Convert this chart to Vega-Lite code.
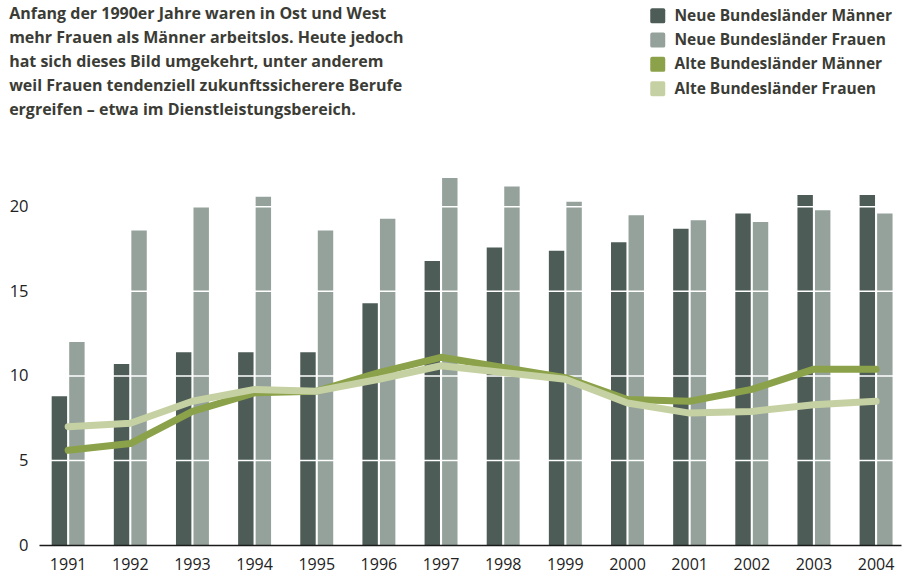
{
  "$schema": "https://vega.github.io/schema/vega-lite/v6.json",
  "width": 862,
  "height": 372,
  "padding": {"left": 9, "top": 6, "right": 0, "bottom": 0},
  "background": "white",
  "config": {"view": {"stroke": null}, "font": "Open Sans"},
  "title": {
    "text": [
      "Anfang der 1990er Jahre waren in Ost und West",
      "mehr Frauen als Männer arbeitslos. Heute jedoch",
      "hat sich dieses Bild umgekehrt, unter anderem",
      "weil Frauen tendenziell zukunftssicherere Berufe",
      "ergreifen – etwa im Dienstleistungsbereich."
    ],
    "anchor": "start",
    "frame": "bounds",
    "font": "Open Sans",
    "fontSize": 16,
    "fontWeight": "bold",
    "lineHeight": 24,
    "color": "#3b3c35",
    "offset": -110
  },
  "datasets": {
    "bars": [
      {"year": "1991", "series": "Neue Bundesländer Männer", "value": 8.8},
      {"year": "1991", "series": "Neue Bundesländer Frauen", "value": 12.0},
      {"year": "1992", "series": "Neue Bundesländer Männer", "value": 10.7},
      {"year": "1992", "series": "Neue Bundesländer Frauen", "value": 18.6},
      {"year": "1993", "series": "Neue Bundesländer Männer", "value": 11.4},
      {"year": "1993", "series": "Neue Bundesländer Frauen", "value": 20.0},
      {"year": "1994", "series": "Neue Bundesländer Männer", "value": 11.4},
      {"year": "1994", "series": "Neue Bundesländer Frauen", "value": 20.6},
      {"year": "1995", "series": "Neue Bundesländer Männer", "value": 11.4},
      {"year": "1995", "series": "Neue Bundesländer Frauen", "value": 18.6},
      {"year": "1996", "series": "Neue Bundesländer Männer", "value": 14.3},
      {"year": "1996", "series": "Neue Bundesländer Frauen", "value": 19.3},
      {"year": "1997", "series": "Neue Bundesländer Männer", "value": 16.8},
      {"year": "1997", "series": "Neue Bundesländer Frauen", "value": 21.7},
      {"year": "1998", "series": "Neue Bundesländer Männer", "value": 17.6},
      {"year": "1998", "series": "Neue Bundesländer Frauen", "value": 21.2},
      {"year": "1999", "series": "Neue Bundesländer Männer", "value": 17.4},
      {"year": "1999", "series": "Neue Bundesländer Frauen", "value": 20.3},
      {"year": "2000", "series": "Neue Bundesländer Männer", "value": 17.9},
      {"year": "2000", "series": "Neue Bundesländer Frauen", "value": 19.5},
      {"year": "2001", "series": "Neue Bundesländer Männer", "value": 18.7},
      {"year": "2001", "series": "Neue Bundesländer Frauen", "value": 19.2},
      {"year": "2002", "series": "Neue Bundesländer Männer", "value": 19.6},
      {"year": "2002", "series": "Neue Bundesländer Frauen", "value": 19.1},
      {"year": "2003", "series": "Neue Bundesländer Männer", "value": 20.7},
      {"year": "2003", "series": "Neue Bundesländer Frauen", "value": 19.8},
      {"year": "2004", "series": "Neue Bundesländer Männer", "value": 20.7},
      {"year": "2004", "series": "Neue Bundesländer Frauen", "value": 19.6}
    ],
    "lines": [
      {"year": "1991", "series": "Alte Bundesländer Männer", "value": 5.6},
      {"year": "1992", "series": "Alte Bundesländer Männer", "value": 6.0},
      {"year": "1993", "series": "Alte Bundesländer Männer", "value": 7.9},
      {"year": "1994", "series": "Alte Bundesländer Männer", "value": 9.0},
      {"year": "1995", "series": "Alte Bundesländer Männer", "value": 9.1},
      {"year": "1996", "series": "Alte Bundesländer Männer", "value": 10.2},
      {"year": "1997", "series": "Alte Bundesländer Männer", "value": 11.1},
      {"year": "1998", "series": "Alte Bundesländer Männer", "value": 10.5},
      {"year": "1999", "series": "Alte Bundesländer Männer", "value": 9.9},
      {"year": "2000", "series": "Alte Bundesländer Männer", "value": 8.6},
      {"year": "2001", "series": "Alte Bundesländer Männer", "value": 8.5},
      {"year": "2002", "series": "Alte Bundesländer Männer", "value": 9.2},
      {"year": "2003", "series": "Alte Bundesländer Männer", "value": 10.4},
      {"year": "2004", "series": "Alte Bundesländer Männer", "value": 10.4},
      {"year": "1991", "series": "Alte Bundesländer Frauen", "value": 7.0},
      {"year": "1992", "series": "Alte Bundesländer Frauen", "value": 7.2},
      {"year": "1993", "series": "Alte Bundesländer Frauen", "value": 8.5},
      {"year": "1994", "series": "Alte Bundesländer Frauen", "value": 9.2},
      {"year": "1995", "series": "Alte Bundesländer Frauen", "value": 9.1},
      {"year": "1996", "series": "Alte Bundesländer Frauen", "value": 9.8},
      {"year": "1997", "series": "Alte Bundesländer Frauen", "value": 10.6},
      {"year": "1998", "series": "Alte Bundesländer Frauen", "value": 10.2},
      {"year": "1999", "series": "Alte Bundesländer Frauen", "value": 9.8},
      {"year": "2000", "series": "Alte Bundesländer Frauen", "value": 8.4},
      {"year": "2001", "series": "Alte Bundesländer Frauen", "value": 7.8},
      {"year": "2002", "series": "Alte Bundesländer Frauen", "value": 7.9},
      {"year": "2003", "series": "Alte Bundesländer Frauen", "value": 8.3},
      {"year": "2004", "series": "Alte Bundesländer Frauen", "value": 8.5}
    ],
    "grid": [{"v": 5}, {"v": 10}, {"v": 15}, {"v": 20}]
  },
  "layer": [
    {
      "data": {"name": "bars"},
      "mark": {"type": "bar"},
      "encoding": {
        "x": {
          "field": "year", "type": "ordinal",
          "scale": {"paddingInner": 0.47, "paddingOuter": 0.17, "align": 0.6},
          "axis": {
            "title": null, "labelAngle": 0, "ticks": false,
            "labelFont": "Open Sans", "labelFontSize": 16, "labelColor": "#222222",
            "labelPadding": 11, "domainColor": "#1a1a1a", "domainWidth": 1.5,
            "zindex": 1
          }
        },
        "xOffset": {
          "field": "series", "type": "nominal",
          "scale": {"domain": ["Neue Bundesländer Männer", "Neue Bundesländer Frauen"], "paddingInner": 0.12}
        },
        "y": {
          "field": "value", "type": "quantitative",
          "scale": {"domain": [0, 22], "nice": false},
          "axis": {
            "title": null, "values": [0, 5, 10, 15, 20], "grid": false,
            "domain": false, "ticks": false, "labelFont": "Open Sans",
            "labelFontSize": 16.5, "labelColor": "#222222", "labelPadding": 11
          }
        },
        "color": {
          "field": "series", "type": "nominal",
          "scale": {
            "domain": ["Neue Bundesländer Männer", "Neue Bundesländer Frauen", "Alte Bundesländer Männer", "Alte Bundesländer Frauen"],
            "range": ["#4d5c56", "#94a29b", "#8ca24a", "#c6d1a3"]
          },
          "legend": {
            "title": null,
            "orient": "none",
            "legendX": 611,
            "legendY": -165,
            "symbolType": "M-0.75,-1H0.75Q1,-1,1,-0.75V0.75Q1,1,0.75,1H-0.75Q-1,1,-1,0.75V-0.75Q-1,-1,-0.75,-1Z",
            "symbolSize": 225,
            "symbolStrokeWidth": 0,
            "symbolOpacity": 1,
            "labelFont": "Open Sans",
            "labelFontSize": 15.5,
            "labelFontWeight": "bold",
            "labelColor": "#3b3c35",
            "labelOffset": 9,
            "rowPadding": 7.3,
            "labelLimit": 400,
            "encode": {
              "symbols": {"update": {"fill": {"scale": "color", "field": "value"}, "opacity": {"value": 1}}}
            }
          }
        }
      }
    },
    {
      "data": {"name": "grid"},
      "mark": {"type": "rule", "color": "white", "strokeWidth": 1.5},
      "encoding": {"y": {"field": "v", "type": "quantitative"}}
    },
    {
      "data": {"name": "lines"},
      "mark": {"type": "line", "strokeWidth": 7, "interpolate": "linear", "strokeCap": "round", "strokeJoin": "round"},
      "encoding": {
        "x": {"field": "year", "type": "ordinal"},
        "y": {"field": "value", "type": "quantitative"},
        "color": {"field": "series", "type": "nominal"},
        "order": {"field": "year"}
      }
    }
  ]
}
